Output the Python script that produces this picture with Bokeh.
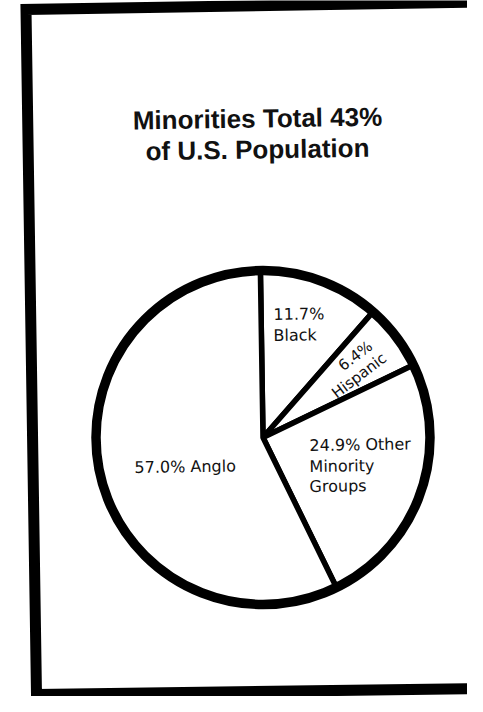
import math
from bokeh.plotting import figure
from bokeh.models import Range1d, ColumnDataSource
from bokeh.core.properties import value
from bokeh.embed import file_html
from bokeh.resources import INLINE

# ---- data ----
categories = ["Black", "Hispanic", "Other Minority Groups", "Anglo"]
shares = [11.7, 6.4, 24.9, 57.0]
label_lines = [["11.7%", "Black"], ["6.4%", "Hispanic"],
               ["24.9% Other", "Minority", "Groups"], ["57.0% Anglo"]]
title_lines = ["Minorities Total 43%", "of U.S. Population"]

# ---- layout (screen pixel coordinates of the page) ----
W, H = 467, 696
PAGE_H = 712


def sy(y):
    return PAGE_H - y


CX, CY = 270.5, sy(445)
R = 167
TILT = -0.9  # degrees, scan rotation
ROT = math.radians(0.9)
FONT = value("DejaVu Sans")
TFONT = value("Liberation Sans")

p = figure(width=W, height=H, x_range=Range1d(8, 8 + W), y_range=Range1d(PAGE_H - 8 - H, PAGE_H - 8),
           output_backend="svg", toolbar_location=None, min_border=0,
           x_axis_location=None, y_axis_location=None)
p.grid.visible = False
p.outline_line_color = None
p.background_fill_color = "white"
p.border_fill_color = "white"

# frame
p.line(x=[495, 33.5, 44, 495], y=[sy(9.5), sy(17), sy(702), sy(696)],
       line_color="black", line_width=11, line_join="miter")

# title
p.text(x=[265, 265], y=[sy(126), sy(157)], text=title_lines, text_font=TFONT,
       text_font_style="bold", text_font_size="26px", text_align="center",
       text_baseline="alphabetic", angle=ROT, text_color="#111111")

# pie
starts, ends, cum = [], [], 0.0
for s in shares:
    a0 = TILT + cum * 3.6
    cum += s
    a1 = TILT + cum * 3.6
    starts.append(math.radians(90 - a0))
    ends.append(math.radians(90 - a1))
src = ColumnDataSource(dict(cat=categories, share=shares, start=starts, end=ends))
p.wedge(x=CX, y=CY, radius=R, start_angle="start", end_angle="end", direction="clock",
        fill_color="white", line_color="black", line_width=5.5, source=src)
p.circle(x=[CX], y=[CY], radius=R, fill_color=None, line_color="black", line_width=9.5)

lab = dict(text_font=FONT, text_font_size="16px", text_color="#111111",
           text_baseline="alphabetic", text_align="left", angle=ROT)
# Black
p.text(x=[281, 281], y=[sy(322), sy(343)], text=label_lines[0], **lab)
# Other
p.text(x=[317, 317, 317], y=[sy(453), sy(474), sy(494)], text=label_lines[2], **lab)
# Anglo
p.text(x=[142], y=[sy(475)], text=label_lines[3], **lab)

# Hispanic (rotated along its wedge)
mid = TILT + (shares[0] + shares[1] / 2) * 3.6
ang = math.radians(90 - mid)
r_lab = 114
hx = CX + r_lab * math.sin(math.radians(mid))
hy = CY + r_lab * math.cos(math.radians(mid))
ux, uy = -math.sin(ang), math.cos(ang)
bx, by = math.cos(ang), math.sin(ang)
p.text(x=[hx + 9 * ux + 9 * bx, hx - 9 * ux],
       y=[hy + 9 * uy + 9 * by, hy - 9 * uy],
       text=label_lines[1], text_font=FONT, text_font_size="15px", text_color="#111111",
       text_baseline="middle", text_align="center", angle=ang)

open("out.html", "w").write(file_html(p, INLINE))
